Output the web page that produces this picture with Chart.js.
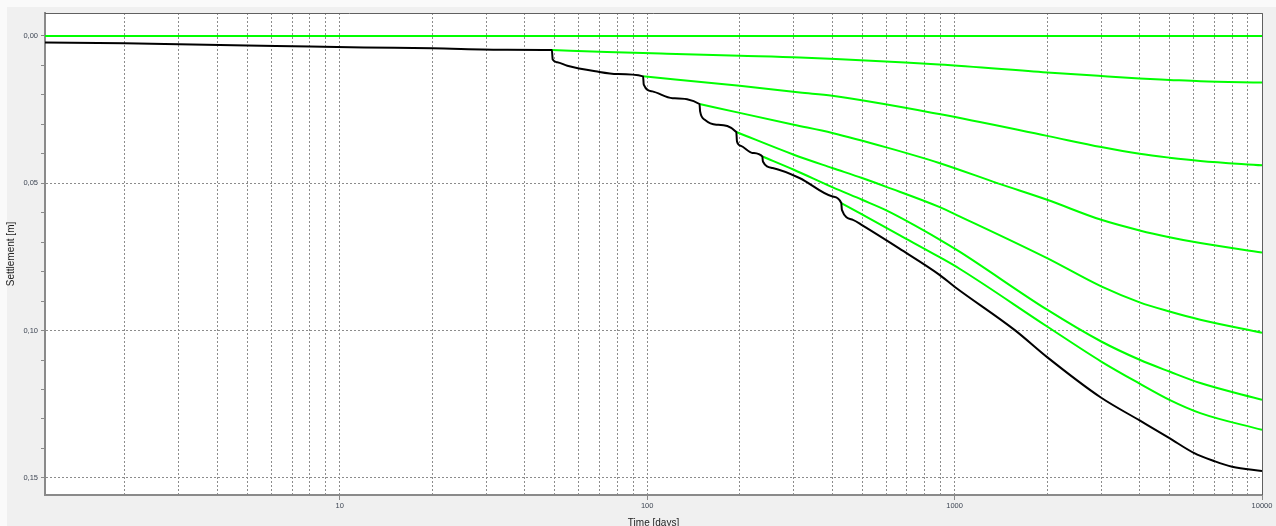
<!DOCTYPE html>
<html>
<head>
<meta charset="utf-8">
<script src="https://cdn.jsdelivr.net/npm/chart.js@4.4.0/dist/chart.umd.min.js"></script>
<style>
  html, body { margin: 0; padding: 0; overflow: hidden; background: #f0f0f0; }
  #wrap { position: relative; width: 1276px; height: 540px; }
</style>
</head>
<body>
<div id="wrap"><canvas id="settlementChart"></canvas></div>
<script>
// total settlement under the staged loading
const totalDays = [1.1, 2, 3, 5, 8, 12, 20, 35, 49, 49.3, 51, 55, 68, 80, 97, 97.5, 104, 121, 148,
  148.7, 154, 168, 195, 196, 202, 220, 237, 238, 256, 313, 401, 428, 430, 467, 503, 662, 891,
  1000, 1578, 2000, 3000, 4000, 5000, 6000, 7000, 8000, 10000];
const totalSettlement = [0.0022, 0.0025, 0.0028, 0.0032, 0.0036, 0.0039, 0.0042, 0.0047, 0.0048,
  0.0080, 0.0089, 0.0101, 0.0120, 0.0129, 0.0137, 0.0165, 0.0188, 0.0211, 0.0231,
  0.0256, 0.0284, 0.0301, 0.0326, 0.0358, 0.0373, 0.0397, 0.0409, 0.0426, 0.0448, 0.0482,
  0.0545, 0.0567, 0.0590, 0.0624, 0.0644, 0.0722, 0.0810, 0.0851, 0.1000, 0.1090, 0.1228,
  0.1305, 0.1365, 0.1415, 0.1443, 0.1462, 0.1477];

// settlement per phase if no further load is added
const phase0Days = [1.1, 10000];
const phase0Settlement = [0, 0];
const phase1Days = [49, 74, 116, 200, 314, 891, 2000, 3000, 4000, 5000, 6300, 10000];
const phase1Settlement = [0.0048, 0.0054, 0.0060, 0.0067, 0.0073, 0.0097, 0.0124, 0.0136, 0.0144, 0.0149, 0.0154, 0.0158];
const phase2Days = [97, 200, 314, 400, 891, 2000, 3000, 4000, 5000, 6300, 10000];
const phase2Settlement = [0.0137, 0.0169, 0.0192, 0.0203, 0.0265, 0.0339, 0.0377, 0.0400, 0.0413, 0.0424, 0.0439];
const phase3Days = [148, 200, 300, 400, 600, 891, 1400, 2000, 3000, 4000, 5000, 6300, 10000];
const phase3Settlement = [0.0231, 0.0261, 0.0301, 0.0329, 0.0378, 0.0431, 0.0502, 0.0556, 0.0624, 0.0660, 0.0683, 0.0703, 0.0735];
const phase4Days = [195, 300, 400, 500, 600, 891, 1038, 2000, 3000, 4000, 5000, 6300, 10000];
const phase4Settlement = [0.0326, 0.0403, 0.0448, 0.0482, 0.0512, 0.0580, 0.0612, 0.0754, 0.0850, 0.0904, 0.0935, 0.0963, 0.1007];
const phase5Days = [237, 300, 400, 500, 600, 891, 1038, 2000, 3000, 4000, 5000, 6300, 10000];
const phase5Settlement = [0.0409, 0.0454, 0.0513, 0.0556, 0.0592, 0.0690, 0.0732, 0.0929, 0.1037, 0.1099, 0.1139, 0.1178, 0.1235];
const phase6Days = [428, 662, 891, 1038, 2000, 3000, 4000, 5000, 6300, 10000];
const phase6Settlement = [0.0567, 0.0676, 0.0750, 0.0790, 0.0986, 0.1105, 0.1180, 0.1235, 0.1280, 0.1337];

// axes
const dayLabels = [10, 100, 1000, 10000];
const settlementLabels = [0, 0.05, 0.10, 0.15];
const DAY_MIN = 1.1;
const DAY_MAX = 10000;
const SETTLEMENT_MIN = -0.0078;
const SETTLEMENT_MAX = 0.1558;

const GRID = '#8c8c8c';
const AXIS = '#8a8a8a';
const TICK_FONT = { family: 'Liberation Sans', size: 7.5 };
const TITLE_FONT = { family: 'Liberation Sans', size: 10 };

function toPoints(days, values) {
    return days.map((d, i) => ({ x: d, y: values[i] }));
}

// 1..9 of every decade, for the dotted vertical grid
const dayGrid = [];
for (let p = 0; p < 4; p++) {
    for (let k = 1; k < 10; k++) {
        const v = k * Math.pow(10, p);
        if (v >= DAY_MIN && v <= DAY_MAX) dayGrid.push(v);
    }
}
dayGrid.push(DAY_MAX);

// every centimetre gets a tick mark, the labelled ones a grid line
const settlementGrid = [];
for (let i = 0; i <= 15; i++) settlementGrid.push(i / 100);

const isLabelled = v => settlementLabels.some(l => Math.abs(l - v) < 1e-6);
const isDecade = v => dayLabels.includes(v);

function line(data, color) {
    return {
        data,
        borderColor: color,
        borderWidth: 2,
        pointRadius: 0,
        fill: false,
        cubicInterpolationMode: 'monotone'
    };
}

const panel = {
    id: 'panel',
    beforeDraw(chart) {
        const { ctx, chartArea: a, width, height } = chart;
        ctx.save();
        ctx.fillStyle = '#fafafa';
        ctx.fillRect(0, 0, width, height);
        ctx.fillStyle = '#f0f0f0';
        ctx.fillRect(7, 7, width - 7, height - 7);
        ctx.fillStyle = '#ffffff';
        ctx.fillRect(a.left, a.top, a.right - a.left, a.bottom - a.top);
        ctx.restore();
    },
    afterDraw(chart) {
        const { ctx, chartArea: a } = chart;
        ctx.save();
        ctx.strokeStyle = '#606060';
        ctx.lineWidth = 1;
        ctx.beginPath();
        ctx.moveTo(a.left, a.top + 0.5);
        ctx.lineTo(a.right + 0.5, a.top + 0.5);
        ctx.lineTo(a.right + 0.5, a.bottom);
        ctx.stroke();
        ctx.restore();
    }
};

new Chart(document.getElementById('settlementChart'), {
    type: 'line',
    data: {
        datasets: [
            line(toPoints(totalDays, totalSettlement), '#000000'),
            line(toPoints(phase0Days, phase0Settlement), '#00ff00'),
            line(toPoints(phase1Days, phase1Settlement), '#00ff00'),
            line(toPoints(phase2Days, phase2Settlement), '#00ff00'),
            line(toPoints(phase3Days, phase3Settlement), '#00ff00'),
            line(toPoints(phase4Days, phase4Settlement), '#00ff00'),
            line(toPoints(phase5Days, phase5Settlement), '#00ff00'),
            line(toPoints(phase6Days, phase6Settlement), '#00ff00')
        ]
    },
    options: {
        responsive: true,
        maintainAspectRatio: false,
        devicePixelRatio: 1,
        animation: false,
        layout: { padding: { top: 13, right: 14, left: 0, bottom: 0 } },
        plugins: {
            legend: { display: false },
            tooltip: { enabled: false }
        },
        scales: {
            x: {
                type: 'logarithmic',
                min: DAY_MIN,
                max: DAY_MAX,
                afterBuildTicks: s => { s.ticks = dayGrid.map(v => ({ value: v })); },
                afterFit: s => { s.height = 45; },
                ticks: {
                    autoSkip: false,
                    maxRotation: 0,
                    padding: 1,
                    color: '#3e4654',
                    font: TICK_FONT,
                    callback: v => isDecade(v) ? String(v) : ''
                },
                grid: {
                    color: GRID,
                    lineWidth: 1,
                    tickLength: 5,
                    tickColor: c => (c.tick && isDecade(c.tick.value)) ? AXIS : 'rgba(0,0,0,0)'
                },
                border: { color: AXIS, width: 2, dash: [2, 2] },
                title: {
                    display: true,
                    text: 'Time [days]',
                    color: '#222222',
                    font: TITLE_FONT,
                    padding: { top: 0, bottom: 11 }
                }
            },
            y: {
                reverse: true,
                min: SETTLEMENT_MIN,
                max: SETTLEMENT_MAX,
                afterBuildTicks: s => { s.ticks = settlementGrid.map(v => ({ value: v })); },
                afterFit: s => { s.width = 45; },
                ticks: {
                    autoSkip: false,
                    padding: 3,
                    color: '#3e4654',
                    font: TICK_FONT,
                    callback: v => isLabelled(v) ? v.toFixed(2).replace('.', ',') : ''
                },
                grid: {
                    color: c => (c.tick && isLabelled(c.tick.value)) ? GRID : 'rgba(0,0,0,0)',
                    lineWidth: 1,
                    tickLength: 4,
                    tickColor: AXIS
                },
                border: { color: AXIS, width: 2, dash: [2, 2] },
                title: {
                    display: true,
                    text: 'Settlement [m]',
                    color: '#222222',
                    font: TITLE_FONT,
                    padding: { top: 5, bottom: 0 }
                }
            }
        }
    },
    plugins: [panel]
});
</script>
</body>
</html>
